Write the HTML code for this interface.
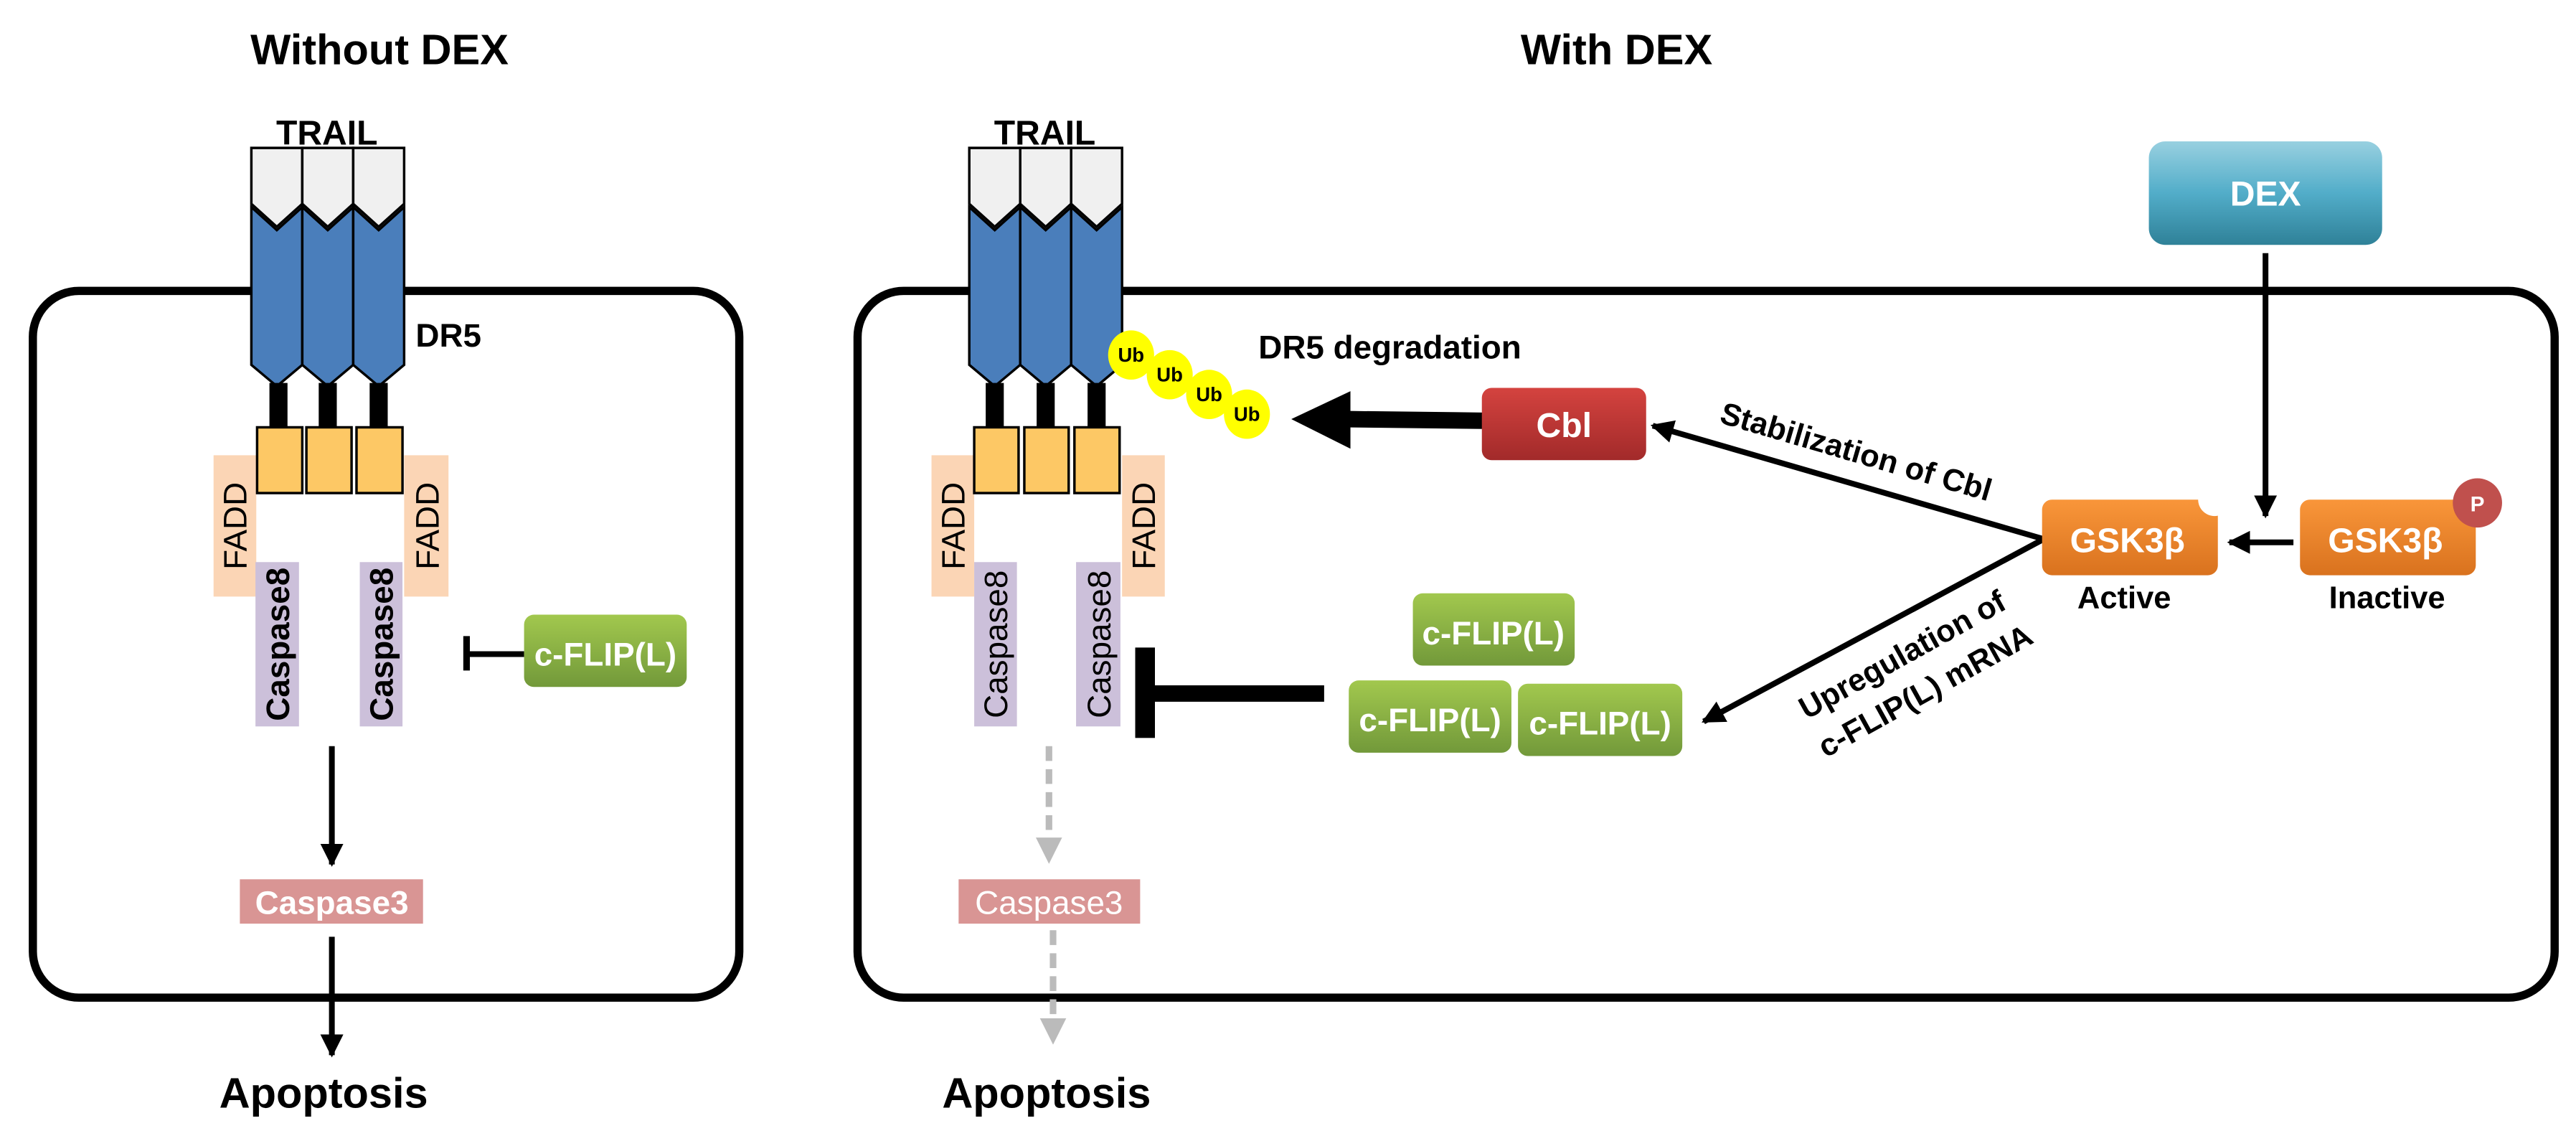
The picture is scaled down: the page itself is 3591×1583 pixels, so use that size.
<!DOCTYPE html>
<html><head><meta charset="utf-8"><style>html,body{margin:0;padding:0;background:#fff}svg{display:block}</style></head>
<body>
<svg width="3591" height="1583" viewBox="0 0 1568 691.2" preserveAspectRatio="none" xmlns="http://www.w3.org/2000/svg" font-family="Liberation Sans, Arial, sans-serif">
<defs>
<linearGradient id="gr" x1="0" y1="0" x2="0" y2="1"><stop offset="0" stop-color="#a2c84e"/><stop offset="1" stop-color="#72993a"/></linearGradient>
<linearGradient id="rd" x1="0" y1="0" x2="0" y2="1"><stop offset="0" stop-color="#d4433f"/><stop offset="1" stop-color="#a22a2a"/></linearGradient>
<linearGradient id="or" x1="0" y1="0" x2="0" y2="1"><stop offset="0" stop-color="#f9963a"/><stop offset="1" stop-color="#d9721e"/></linearGradient>
<linearGradient id="bl" x1="0" y1="0" x2="0" y2="1"><stop offset="0" stop-color="#98d0e0"/><stop offset="0.5" stop-color="#52adc9"/><stop offset="1" stop-color="#2f8198"/></linearGradient>
<marker id="ah" markerWidth="4" markerHeight="4" refX="3.6" refY="2" orient="auto" markerUnits="strokeWidth"><path d="M0,0 L4,2 L0,4 Z" fill="#000"/></marker>
<marker id="ag" markerWidth="4" markerHeight="4" refX="3.6" refY="2" orient="auto" markerUnits="strokeWidth"><path d="M0,0 L4,2 L0,4 Z" fill="#bbb"/></marker>
</defs>

<!-- titles -->
<text x="231" y="39" font-size="26" font-weight="bold" text-anchor="middle">Without DEX</text>
<text x="984" y="39" font-size="26" font-weight="bold" text-anchor="middle">With DEX</text>

<!-- cell boxes -->
<rect x="20" y="177" width="430" height="430" rx="28" fill="none" stroke="#000" stroke-width="5"/>
<rect x="522" y="177" width="1033" height="430" rx="28" fill="none" stroke="#000" stroke-width="5"/>

<!-- LEFT receptors -->
<g stroke="#000" stroke-width="1.5">
<rect x="153" y="88" width="93" height="50" fill="#fff" stroke="none"/>
<polygon points="153,90 184,90 184,124 168.5,138 153,124" fill="#f0f0f0"/>
<polygon points="184,90 215,90 215,124 199.5,138 184,124" fill="#f0f0f0"/>
<polygon points="215,90 246,90 246,124 230.5,138 215,124" fill="#f0f0f0"/>
<polygon points="153,126 168.5,140 184,126 184,222 168.5,235 153,222" fill="#4a7ebb"/>
<polygon points="184,126 199.5,140 215,126 215,222 199.5,235 184,222" fill="#4a7ebb"/>
<polygon points="215,126 230.5,140 246,126 246,222 230.5,235 215,222" fill="#4a7ebb"/>
</g>
<g fill="#000"><rect x="164" y="233" width="11" height="28"/><rect x="194" y="233" width="11" height="28"/><rect x="225" y="233" width="11" height="28"/></g>
<text x="199" y="88" font-size="21" font-weight="bold" text-anchor="middle">TRAIL</text>
<text x="253" y="211" font-size="20" font-weight="bold">DR5</text>
<rect x="130" y="277" width="26" height="86" fill="#fbd5b5"/>
<rect x="246" y="277" width="27" height="86" fill="#fbd5b5"/>
<g stroke="#000" stroke-width="1.5" fill="#fdc865">
<rect x="156.5" y="260" width="27.5" height="40"/><rect x="186.5" y="260" width="27.5" height="40"/><rect x="217" y="260" width="28" height="40"/></g>
<rect x="155.5" y="342" width="26.5" height="100" fill="#ccc0da"/>
<rect x="219" y="342" width="26" height="100" fill="#ccc0da"/>
<text transform="translate(150,320) rotate(-90)" font-size="20" text-anchor="middle">FADD</text>
<text transform="translate(267,320) rotate(-90)" font-size="20" text-anchor="middle">FADD</text>
<text transform="translate(176,392) rotate(-90)" font-size="20" font-weight="bold" text-anchor="middle">Caspase8</text>
<text transform="translate(239,392) rotate(-90)" font-size="20" font-weight="bold" text-anchor="middle">Caspase8</text>
<line x1="284" y1="398" x2="319" y2="398" stroke="#000" stroke-width="3.5"/>
<line x1="284" y1="387" x2="284" y2="408" stroke="#000" stroke-width="4"/>
<rect x="319" y="374" width="99" height="44" rx="6" fill="url(#gr)"/>
<text x="368.5" y="405" font-size="20" font-weight="bold" fill="#fff" text-anchor="middle">c-FLIP(L)</text>
<line x1="202" y1="454" x2="202" y2="526" stroke="#000" stroke-width="3.5" marker-end="url(#ah)"/>
<rect x="146" y="535" width="111.5" height="27" fill="#d99594"/>
<text x="202" y="556" font-size="20" font-weight="bold" fill="#fff" text-anchor="middle">Caspase3</text>
<line x1="202" y1="570" x2="202" y2="642" stroke="#000" stroke-width="3.5" marker-end="url(#ah)"/>
<text x="197" y="674" font-size="26" font-weight="bold" text-anchor="middle">Apoptosis</text>

<!-- RIGHT receptors -->
<g stroke="#000" stroke-width="1.5">
<rect x="590" y="88" width="93" height="50" fill="#fff" stroke="none"/>
<polygon points="590,90 621,90 621,124 605.5,138 590,124" fill="#f0f0f0"/>
<polygon points="621,90 652,90 652,124 636.5,138 621,124" fill="#f0f0f0"/>
<polygon points="652,90 683,90 683,124 667.5,138 652,124" fill="#f0f0f0"/>
<polygon points="590,126 605.5,140 621,126 621,222 605.5,235 590,222" fill="#4a7ebb"/>
<polygon points="621,126 636.5,140 652,126 652,222 636.5,235 621,222" fill="#4a7ebb"/>
<polygon points="652,126 667.5,140 683,126 683,222 667.5,235 652,222" fill="#4a7ebb"/>
</g>
<g fill="#000"><rect x="600" y="233" width="11" height="28"/><rect x="631" y="233" width="11" height="28"/><rect x="662" y="233" width="11" height="28"/></g>
<text x="636" y="88" font-size="21" font-weight="bold" text-anchor="middle">TRAIL</text>
<rect x="567" y="277" width="26" height="86" fill="#fbd5b5"/>
<rect x="683" y="277" width="26" height="86" fill="#fbd5b5"/>
<g stroke="#000" stroke-width="1.5" fill="#fdc865">
<rect x="593" y="260" width="27" height="40"/><rect x="623.5" y="260" width="27" height="40"/><rect x="654" y="260" width="27.5" height="40"/></g>
<rect x="593" y="342" width="26" height="100" fill="#ccc0da"/>
<rect x="655" y="342" width="27" height="100" fill="#ccc0da"/>
<text transform="translate(587,320) rotate(-90)" font-size="20" text-anchor="middle">FADD</text>
<text transform="translate(703,320) rotate(-90)" font-size="20" text-anchor="middle">FADD</text>
<text transform="translate(613,392) rotate(-90)" font-size="20" text-anchor="middle">Caspase8</text>
<text transform="translate(676,392) rotate(-90)" font-size="20" text-anchor="middle">Caspase8</text>

<!-- Ub -->
<g fill="#ffff00"><ellipse cx="688.5" cy="216" rx="14" ry="15"/><ellipse cx="712" cy="228" rx="14" ry="15"/><ellipse cx="736" cy="240" rx="14" ry="15"/><ellipse cx="759" cy="252" rx="14" ry="15"/></g>
<g font-size="12" font-weight="bold" text-anchor="middle"><text x="688.5" y="220">Ub</text><text x="712" y="232">Ub</text><text x="736" y="244">Ub</text><text x="759" y="256">Ub</text></g>
<text x="766" y="218" font-size="20" font-weight="bold">DR5 degradation</text>
<line x1="903" y1="256" x2="818" y2="255" stroke="#000" stroke-width="10"/>
<polygon points="786,255 822,238 822,273" fill="#000"/>
<rect x="902" y="236" width="100" height="44" rx="6" fill="url(#rd)"/>
<text x="952" y="266" font-size="21" font-weight="bold" fill="#fff" text-anchor="middle">Cbl</text>

<!-- inhibitor -->
<line x1="700" y1="422" x2="806" y2="422" stroke="#000" stroke-width="10"/>
<rect x="691" y="394" width="12" height="55" fill="#000"/>
<rect x="860" y="361" width="98.5" height="44" rx="6" fill="url(#gr)"/>
<text x="909" y="392" font-size="20" font-weight="bold" fill="#fff" text-anchor="middle">c-FLIP(L)</text>
<rect x="821" y="414" width="99" height="44" rx="6" fill="url(#gr)"/>
<text x="870.5" y="445" font-size="20" font-weight="bold" fill="#fff" text-anchor="middle">c-FLIP(L)</text>
<rect x="924" y="416" width="100" height="44" rx="6" fill="url(#gr)"/>
<text x="974" y="447" font-size="20" font-weight="bold" fill="#fff" text-anchor="middle">c-FLIP(L)</text>

<!-- dashed -->
<line x1="638.5" y1="454" x2="638.5" y2="524" stroke="#bbb" stroke-width="4" stroke-dasharray="9,5" marker-end="url(#ag)"/>
<rect x="583.5" y="535" width="110.5" height="27" fill="#d99594"/>
<text x="638.5" y="556" font-size="20" fill="#fff" text-anchor="middle">Caspase3</text>
<line x1="641" y1="566" x2="641" y2="634" stroke="#bbb" stroke-width="4" stroke-dasharray="9,5" marker-end="url(#ag)"/>
<text x="637" y="674" font-size="26" font-weight="bold" text-anchor="middle">Apoptosis</text>

<!-- GSK arrows -->
<line x1="1244" y1="328" x2="1006" y2="259" stroke="#000" stroke-width="3.5" marker-end="url(#ah)"/>
<line x1="1244" y1="328" x2="1037" y2="439" stroke="#000" stroke-width="3.5" marker-end="url(#ah)"/>
<text transform="translate(1128,281) rotate(16.3)" font-size="19" font-weight="bold" text-anchor="middle">Stabilization of Cbl</text>
<text transform="translate(1161,404) rotate(-29)" font-size="19" font-weight="bold" text-anchor="middle">Upregulation of</text>
<text transform="translate(1175,426) rotate(-29)" font-size="19" font-weight="bold" text-anchor="middle">c-FLIP(L) mRNA</text>

<rect x="1243" y="304" width="107" height="46" rx="6" fill="url(#or)"/>
<circle cx="1348" cy="304" r="10" fill="#fff"/>
<text x="1295" y="336" font-size="21" font-weight="bold" fill="#fff" text-anchor="middle">GSK3β</text>
<text x="1293" y="370" font-size="19" font-weight="bold" text-anchor="middle">Active</text>
<rect x="1400" y="304" width="107" height="46" rx="6" fill="url(#or)"/>
<text x="1452" y="336" font-size="21" font-weight="bold" fill="#fff" text-anchor="middle">GSK3β</text>
<ellipse cx="1508" cy="306" rx="15" ry="15" fill="#c0504d"/>
<text x="1508" y="311" font-size="13" font-weight="bold" fill="#fff" text-anchor="middle">P</text>
<text x="1453" y="370" font-size="19" font-weight="bold" text-anchor="middle">Inactive</text>
<line x1="1396" y1="330" x2="1357" y2="330" stroke="#000" stroke-width="3.5" marker-end="url(#ah)"/>

<rect x="1308" y="86" width="142" height="63" rx="10" fill="url(#bl)"/>
<text x="1379" y="125" font-size="21" font-weight="bold" fill="#fff" text-anchor="middle">DEX</text>
<line x1="1379" y1="154" x2="1379" y2="314" stroke="#000" stroke-width="3.5" marker-end="url(#ah)"/>
</svg>
</body></html>
